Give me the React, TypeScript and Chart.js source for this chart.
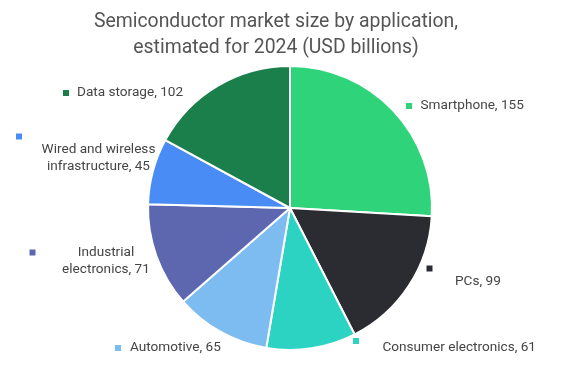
import React, { useEffect, useRef } from "react";
import { Chart, registerables } from "chart.js";

Chart.register(...registerables);

const categories = [
  "Smartphone",
  "PCs",
  "Consumer electronics",
  "Automotive",
  "Industrial electronics",
  "Wired and wireless infrastructure",
  "Data storage",
];
const values = [155, 99, 61, 65, 71, 45, 102];
const colors = ["#2fd47a", "#2b2c32", "#2dd3c2", "#7dbcf0", "#5c67b0", "#4a8cf6", "#1b7f4b"];
const titleLines = ["Semiconductor market size by application,", "estimated for 2024 (USD billions)"];

// label layout, relative to pie centre (px): marker position, text anchor, alignment, wrap
const labelLayout = [
  { mx: 119, my: -102, tx: 130.5, ty: -102, align: "left", wrap: 0 },
  { mx: 139.5, my: 60.5, tx: 165, ty: 74, align: "left", wrap: 0 },
  { mx: 66, my: 133, tx: 92.5, ty: 140, align: "left", wrap: 0 },
  { mx: -172, my: 140, tx: -160, ty: 140, align: "left", wrap: 0 },
  { mx: -257.5, my: 44.5, tx: -184, ty: 44.5, align: "center", wrap: 1 },
  { mx: -271, my: -71.5, tx: -191.5, ty: -58, align: "center", wrap: 3 },
  { mx: -224, my: -115, tx: -213, ty: -115, align: "left", wrap: 0 },
];

const labelPlugin = {
  id: "outLabels",
  afterDraw(chart: any) {
    const ctx = chart.ctx;
    const meta = chart.getDatasetMeta(0);
    if (!meta.data.length) return;
    const arc0 = meta.data[0];
    const cx = arc0.x;
    const cy = arc0.y;
    ctx.save();
    // title
    ctx.fillStyle = "#555555";
    ctx.font = "19.4px Roboto";
    ctx.textAlign = "center";
    ctx.textBaseline = "middle";
    titleLines.forEach((l, i) => ctx.fillText(l, 276, 22 + i * 26));
    // labels
    ctx.font = "13.6px Roboto";
    ctx.textBaseline = "middle";
    meta.data.forEach((arc: any, i: number) => {
      const lay = labelLayout[i];
      const col = colors[i];
      ctx.fillStyle = col;
      ctx.fillRect(cx + lay.mx - 3, cy + lay.my - 3, 6, 6);
      const full = `${categories[i]}, ${values[i]}`;
      let lines = [full];
      if (lay.wrap > 0) {
        const words = categories[i].split(" ");
        lines = [words.slice(0, lay.wrap).join(" "), words.slice(lay.wrap).join(" ") + ", " + values[i]];
      }
      ctx.fillStyle = "#454545";
      ctx.textAlign = lay.align;
      lines.forEach((l, j) => ctx.fillText(l, cx + lay.tx, cy + lay.ty + j * 16.7));
    });
    ctx.restore();
  },
};

export default function App() {
  const ref = useRef<HTMLCanvasElement>(null);
  useEffect(() => {
    if (!ref.current) return;
    const chart = new Chart(ref.current, {
      type: "pie",
      data: {
        labels: categories,
        datasets: [
          {
            data: values,
            backgroundColor: colors,
            borderColor: "#ffffff",
            borderWidth: 2,
          },
        ],
      },
      options: {
        animation: false,
        responsive: false,
        maintainAspectRatio: false,
        layout: { padding: { top: 65, bottom: 20, left: 100, right: 89 } },
        plugins: {
          legend: { display: false },
          title: { display: false },
          tooltip: { enabled: false },
        },
      },
      plugins: [labelPlugin],
    });
    return () => chart.destroy();
  }, []);
  return (
    <div style={{ position: "fixed", left: 0, top: 0, width: 569, height: 371, background: "#fff" }}>
      <canvas ref={ref} width={569} height={371} style={{ width: 569, height: 371 }} />
    </div>
  );
}
